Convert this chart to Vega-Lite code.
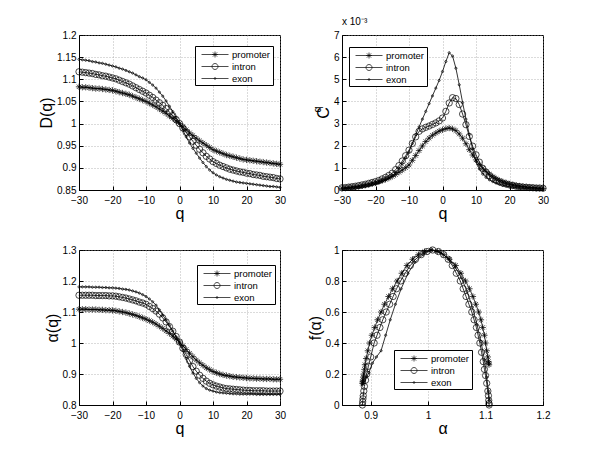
{
  "$schema": "https://vega.github.io/schema/vega-lite/v6.json",
  "background": "white",
  "padding": {"left": 38, "top": 16, "right": 5, "bottom": 5},
  "config": {
    "font": "Liberation Sans",
    "view": {"stroke": "black", "strokeWidth": 1},
    "axis": {
      "labelFont": "Liberation Sans", "labelFontSize": 10, "labelColor": "black", "labelOverlap": false,
      "titleFont": "Liberation Sans", "titleFontSize": 16, "titleFontWeight": "normal", "titleColor": "black",
      "domainColor": "black", "tickColor": "black", "tickSize": -4, "labelPadding": 7,
      "gridColor": "#9a9a9a", "gridDash": [1, 2], "gridWidth": 0.7, "titlePadding": 2
    },
    "axisX": {"labelFlush": false, "labelPadding": 9, "titlePadding": 0},
    "legend": {
      "orient": "none", "strokeColor": "black", "fillColor": "white", "padding": 2,
      "labelFont": "Liberation Sans", "labelFontSize": 9.5, "labelColor": "black", "labelOffset": 22,
      "symbolSize": 144, "rowPadding": 1, "symbolStrokeWidth": 0.7, "symbolStrokeColor": "black", "symbolOpacity": 1
    }
  },
  "datasets": {
    "q": [
      {"s":"promoter","q":-30,"D":1.083,"C":0.08,"a":1.109},
      {"s":"promoter","q":-29,"D":1.082,"C":0.09,"a":1.109},
      {"s":"promoter","q":-28,"D":1.082,"C":0.11,"a":1.109},
      {"s":"promoter","q":-27,"D":1.081,"C":0.12,"a":1.108},
      {"s":"promoter","q":-26,"D":1.080,"C":0.14,"a":1.108},
      {"s":"promoter","q":-25,"D":1.079,"C":0.16,"a":1.108},
      {"s":"promoter","q":-24,"D":1.079,"C":0.19,"a":1.107},
      {"s":"promoter","q":-23,"D":1.078,"C":0.22,"a":1.107},
      {"s":"promoter","q":-22,"D":1.077,"C":0.25,"a":1.106},
      {"s":"promoter","q":-21,"D":1.076,"C":0.29,"a":1.106},
      {"s":"promoter","q":-20,"D":1.075,"C":0.33,"a":1.105},
      {"s":"promoter","q":-19,"D":1.073,"C":0.38,"a":1.104},
      {"s":"promoter","q":-18,"D":1.071,"C":0.43,"a":1.102},
      {"s":"promoter","q":-17,"D":1.069,"C":0.48,"a":1.100},
      {"s":"promoter","q":-16,"D":1.067,"C":0.54,"a":1.098},
      {"s":"promoter","q":-15,"D":1.065,"C":0.61,"a":1.095},
      {"s":"promoter","q":-14,"D":1.062,"C":0.70,"a":1.092},
      {"s":"promoter","q":-13,"D":1.059,"C":0.80,"a":1.089},
      {"s":"promoter","q":-12,"D":1.056,"C":0.90,"a":1.085},
      {"s":"promoter","q":-11,"D":1.053,"C":1.01,"a":1.081},
      {"s":"promoter","q":-10,"D":1.050,"C":1.13,"a":1.077},
      {"s":"promoter","q":-9,"D":1.046,"C":1.34,"a":1.072},
      {"s":"promoter","q":-8,"D":1.042,"C":1.56,"a":1.067},
      {"s":"promoter","q":-7,"D":1.038,"C":1.78,"a":1.061},
      {"s":"promoter","q":-6,"D":1.033,"C":1.99,"a":1.054},
      {"s":"promoter","q":-5,"D":1.028,"C":2.19,"a":1.047},
      {"s":"promoter","q":-4,"D":1.023,"C":2.34,"a":1.039},
      {"s":"promoter","q":-3,"D":1.017,"C":2.47,"a":1.031},
      {"s":"promoter","q":-2,"D":1.012,"C":2.57,"a":1.022},
      {"s":"promoter","q":-1,"D":1.006,"C":2.66,"a":1.013},
      {"s":"promoter","q":0,"D":1.000,"C":2.72,"a":1.003},
      {"s":"promoter","q":1,"D":0.993,"C":2.77,"a":0.991},
      {"s":"promoter","q":2,"D":0.986,"C":2.80,"a":0.979},
      {"s":"promoter","q":3,"D":0.979,"C":2.76,"a":0.967},
      {"s":"promoter","q":4,"D":0.973,"C":2.68,"a":0.956},
      {"s":"promoter","q":5,"D":0.967,"C":2.53,"a":0.945},
      {"s":"promoter","q":6,"D":0.961,"C":2.34,"a":0.936},
      {"s":"promoter","q":7,"D":0.956,"C":2.09,"a":0.928},
      {"s":"promoter","q":8,"D":0.951,"C":1.82,"a":0.920},
      {"s":"promoter","q":9,"D":0.946,"C":1.58,"a":0.914},
      {"s":"promoter","q":10,"D":0.941,"C":1.36,"a":0.908},
      {"s":"promoter","q":11,"D":0.938,"C":1.16,"a":0.904},
      {"s":"promoter","q":12,"D":0.935,"C":0.98,"a":0.900},
      {"s":"promoter","q":13,"D":0.932,"C":0.84,"a":0.897},
      {"s":"promoter","q":14,"D":0.929,"C":0.71,"a":0.895},
      {"s":"promoter","q":15,"D":0.927,"C":0.60,"a":0.893},
      {"s":"promoter","q":16,"D":0.925,"C":0.51,"a":0.891},
      {"s":"promoter","q":17,"D":0.923,"C":0.43,"a":0.890},
      {"s":"promoter","q":18,"D":0.921,"C":0.37,"a":0.889},
      {"s":"promoter","q":19,"D":0.919,"C":0.32,"a":0.888},
      {"s":"promoter","q":20,"D":0.918,"C":0.27,"a":0.887},
      {"s":"promoter","q":21,"D":0.917,"C":0.24,"a":0.886},
      {"s":"promoter","q":22,"D":0.916,"C":0.21,"a":0.886},
      {"s":"promoter","q":23,"D":0.915,"C":0.18,"a":0.885},
      {"s":"promoter","q":24,"D":0.914,"C":0.16,"a":0.885},
      {"s":"promoter","q":25,"D":0.913,"C":0.14,"a":0.884},
      {"s":"promoter","q":26,"D":0.912,"C":0.12,"a":0.884},
      {"s":"promoter","q":27,"D":0.911,"C":0.11,"a":0.884},
      {"s":"promoter","q":28,"D":0.910,"C":0.09,"a":0.883},
      {"s":"promoter","q":29,"D":0.909,"C":0.08,"a":0.883},
      {"s":"promoter","q":30,"D":0.908,"C":0.07,"a":0.883},
      {"s":"intron","q":-30,"D":1.117,"C":0.10,"a":1.154},
      {"s":"intron","q":-29,"D":1.116,"C":0.11,"a":1.154},
      {"s":"intron","q":-28,"D":1.115,"C":0.13,"a":1.154},
      {"s":"intron","q":-27,"D":1.114,"C":0.15,"a":1.154},
      {"s":"intron","q":-26,"D":1.113,"C":0.17,"a":1.154},
      {"s":"intron","q":-25,"D":1.111,"C":0.20,"a":1.153},
      {"s":"intron","q":-24,"D":1.110,"C":0.23,"a":1.153},
      {"s":"intron","q":-23,"D":1.108,"C":0.26,"a":1.153},
      {"s":"intron","q":-22,"D":1.107,"C":0.30,"a":1.153},
      {"s":"intron","q":-21,"D":1.105,"C":0.34,"a":1.152},
      {"s":"intron","q":-20,"D":1.103,"C":0.38,"a":1.152},
      {"s":"intron","q":-19,"D":1.101,"C":0.43,"a":1.151},
      {"s":"intron","q":-18,"D":1.098,"C":0.50,"a":1.149},
      {"s":"intron","q":-17,"D":1.095,"C":0.57,"a":1.147},
      {"s":"intron","q":-16,"D":1.092,"C":0.66,"a":1.145},
      {"s":"intron","q":-15,"D":1.089,"C":0.76,"a":1.142},
      {"s":"intron","q":-14,"D":1.085,"C":0.92,"a":1.139},
      {"s":"intron","q":-13,"D":1.081,"C":1.10,"a":1.136},
      {"s":"intron","q":-12,"D":1.077,"C":1.31,"a":1.132},
      {"s":"intron","q":-11,"D":1.073,"C":1.55,"a":1.129},
      {"s":"intron","q":-10,"D":1.069,"C":1.80,"a":1.125},
      {"s":"intron","q":-9,"D":1.064,"C":2.10,"a":1.118},
      {"s":"intron","q":-8,"D":1.059,"C":2.40,"a":1.111},
      {"s":"intron","q":-7,"D":1.053,"C":2.65,"a":1.103},
      {"s":"intron","q":-6,"D":1.047,"C":2.76,"a":1.093},
      {"s":"intron","q":-5,"D":1.041,"C":2.83,"a":1.081},
      {"s":"intron","q":-4,"D":1.034,"C":2.89,"a":1.068},
      {"s":"intron","q":-3,"D":1.026,"C":2.96,"a":1.053},
      {"s":"intron","q":-2,"D":1.018,"C":3.03,"a":1.038},
      {"s":"intron","q":-1,"D":1.009,"C":3.12,"a":1.021},
      {"s":"intron","q":0,"D":1.000,"C":3.25,"a":1.003},
      {"s":"intron","q":1,"D":0.990,"C":3.55,"a":0.983},
      {"s":"intron","q":2,"D":0.980,"C":3.93,"a":0.963},
      {"s":"intron","q":3,"D":0.970,"C":4.17,"a":0.943},
      {"s":"intron","q":4,"D":0.960,"C":4.13,"a":0.924},
      {"s":"intron","q":5,"D":0.951,"C":3.86,"a":0.909},
      {"s":"intron","q":6,"D":0.942,"C":3.43,"a":0.896},
      {"s":"intron","q":7,"D":0.934,"C":2.95,"a":0.886},
      {"s":"intron","q":8,"D":0.926,"C":2.42,"a":0.877},
      {"s":"intron","q":9,"D":0.920,"C":1.98,"a":0.870},
      {"s":"intron","q":10,"D":0.914,"C":1.59,"a":0.865},
      {"s":"intron","q":11,"D":0.910,"C":1.26,"a":0.861},
      {"s":"intron","q":12,"D":0.906,"C":0.98,"a":0.858},
      {"s":"intron","q":13,"D":0.903,"C":0.80,"a":0.855},
      {"s":"intron","q":14,"D":0.900,"C":0.65,"a":0.853},
      {"s":"intron","q":15,"D":0.897,"C":0.53,"a":0.852},
      {"s":"intron","q":16,"D":0.895,"C":0.44,"a":0.851},
      {"s":"intron","q":17,"D":0.893,"C":0.37,"a":0.850},
      {"s":"intron","q":18,"D":0.891,"C":0.31,"a":0.849},
      {"s":"intron","q":19,"D":0.890,"C":0.27,"a":0.848},
      {"s":"intron","q":20,"D":0.888,"C":0.23,"a":0.847},
      {"s":"intron","q":21,"D":0.887,"C":0.20,"a":0.847},
      {"s":"intron","q":22,"D":0.885,"C":0.17,"a":0.846},
      {"s":"intron","q":23,"D":0.884,"C":0.15,"a":0.846},
      {"s":"intron","q":24,"D":0.883,"C":0.13,"a":0.846},
      {"s":"intron","q":25,"D":0.881,"C":0.12,"a":0.846},
      {"s":"intron","q":26,"D":0.880,"C":0.11,"a":0.845},
      {"s":"intron","q":27,"D":0.879,"C":0.10,"a":0.845},
      {"s":"intron","q":28,"D":0.878,"C":0.09,"a":0.845},
      {"s":"intron","q":29,"D":0.876,"C":0.09,"a":0.845},
      {"s":"intron","q":30,"D":0.875,"C":0.08,"a":0.845},
      {"s":"exon","q":-30,"D":1.145,"C":0.05,"a":1.181},
      {"s":"exon","q":-29,"D":1.144,"C":0.06,"a":1.181},
      {"s":"exon","q":-28,"D":1.143,"C":0.07,"a":1.181},
      {"s":"exon","q":-27,"D":1.142,"C":0.08,"a":1.181},
      {"s":"exon","q":-26,"D":1.140,"C":0.09,"a":1.180},
      {"s":"exon","q":-25,"D":1.139,"C":0.11,"a":1.180},
      {"s":"exon","q":-24,"D":1.137,"C":0.13,"a":1.180},
      {"s":"exon","q":-23,"D":1.136,"C":0.16,"a":1.179},
      {"s":"exon","q":-22,"D":1.134,"C":0.19,"a":1.179},
      {"s":"exon","q":-21,"D":1.132,"C":0.23,"a":1.178},
      {"s":"exon","q":-20,"D":1.130,"C":0.27,"a":1.178},
      {"s":"exon","q":-19,"D":1.128,"C":0.32,"a":1.177},
      {"s":"exon","q":-18,"D":1.125,"C":0.38,"a":1.176},
      {"s":"exon","q":-17,"D":1.123,"C":0.45,"a":1.174},
      {"s":"exon","q":-16,"D":1.120,"C":0.54,"a":1.173},
      {"s":"exon","q":-15,"D":1.117,"C":0.65,"a":1.171},
      {"s":"exon","q":-14,"D":1.114,"C":0.80,"a":1.168},
      {"s":"exon","q":-13,"D":1.110,"C":0.98,"a":1.165},
      {"s":"exon","q":-12,"D":1.106,"C":1.20,"a":1.161},
      {"s":"exon","q":-11,"D":1.103,"C":1.45,"a":1.156},
      {"s":"exon","q":-10,"D":1.099,"C":1.72,"a":1.150},
      {"s":"exon","q":-9,"D":1.093,"C":2.10,"a":1.142},
      {"s":"exon","q":-8,"D":1.087,"C":2.50,"a":1.133},
      {"s":"exon","q":-7,"D":1.080,"C":2.85,"a":1.122},
      {"s":"exon","q":-6,"D":1.071,"C":3.20,"a":1.107},
      {"s":"exon","q":-5,"D":1.062,"C":3.55,"a":1.090},
      {"s":"exon","q":-4,"D":1.051,"C":3.90,"a":1.074},
      {"s":"exon","q":-3,"D":1.039,"C":4.25,"a":1.057},
      {"s":"exon","q":-2,"D":1.027,"C":4.60,"a":1.039},
      {"s":"exon","q":-1,"D":1.014,"C":4.95,"a":1.020},
      {"s":"exon","q":0,"D":1.000,"C":5.35,"a":0.999},
      {"s":"exon","q":1,"D":0.985,"C":5.80,"a":0.975},
      {"s":"exon","q":2,"D":0.970,"C":6.20,"a":0.950},
      {"s":"exon","q":3,"D":0.956,"C":6.05,"a":0.925},
      {"s":"exon","q":4,"D":0.944,"C":5.50,"a":0.903},
      {"s":"exon","q":5,"D":0.933,"C":4.75,"a":0.886},
      {"s":"exon","q":6,"D":0.922,"C":3.95,"a":0.872},
      {"s":"exon","q":7,"D":0.912,"C":3.20,"a":0.861},
      {"s":"exon","q":8,"D":0.903,"C":2.50,"a":0.853},
      {"s":"exon","q":9,"D":0.895,"C":1.85,"a":0.848},
      {"s":"exon","q":10,"D":0.889,"C":1.30,"a":0.845},
      {"s":"exon","q":11,"D":0.884,"C":0.95,"a":0.842},
      {"s":"exon","q":12,"D":0.880,"C":0.72,"a":0.840},
      {"s":"exon","q":13,"D":0.877,"C":0.57,"a":0.839},
      {"s":"exon","q":14,"D":0.874,"C":0.46,"a":0.838},
      {"s":"exon","q":15,"D":0.872,"C":0.38,"a":0.837},
      {"s":"exon","q":16,"D":0.870,"C":0.31,"a":0.836},
      {"s":"exon","q":17,"D":0.868,"C":0.26,"a":0.836},
      {"s":"exon","q":18,"D":0.867,"C":0.21,"a":0.835},
      {"s":"exon","q":19,"D":0.866,"C":0.18,"a":0.835},
      {"s":"exon","q":20,"D":0.865,"C":0.15,"a":0.835},
      {"s":"exon","q":21,"D":0.864,"C":0.13,"a":0.835},
      {"s":"exon","q":22,"D":0.863,"C":0.11,"a":0.835},
      {"s":"exon","q":23,"D":0.862,"C":0.09,"a":0.834},
      {"s":"exon","q":24,"D":0.861,"C":0.08,"a":0.834},
      {"s":"exon","q":25,"D":0.860,"C":0.07,"a":0.834},
      {"s":"exon","q":26,"D":0.859,"C":0.06,"a":0.834},
      {"s":"exon","q":27,"D":0.858,"C":0.05,"a":0.834},
      {"s":"exon","q":28,"D":0.858,"C":0.05,"a":0.834},
      {"s":"exon","q":29,"D":0.857,"C":0.04,"a":0.834},
      {"s":"exon","q":30,"D":0.856,"C":0.04,"a":0.834}
    ],
    "fa": [
      {"s":"promoter","a":0.8855,"f":0.14},{"s":"promoter","a":0.886,"f":0.15},{"s":"promoter","a":0.8865,"f":0.16},
      {"s":"promoter","a":0.887,"f":0.18},{"s":"promoter","a":0.888,"f":0.20},{"s":"promoter","a":0.889,"f":0.23},
      {"s":"promoter","a":0.890,"f":0.26},{"s":"promoter","a":0.892,"f":0.30},{"s":"promoter","a":0.895,"f":0.35},
      {"s":"promoter","a":0.898,"f":0.40},{"s":"promoter","a":0.902,"f":0.45},{"s":"promoter","a":0.907,"f":0.50},
      {"s":"promoter","a":0.912,"f":0.55},{"s":"promoter","a":0.918,"f":0.60},{"s":"promoter","a":0.924,"f":0.65},
      {"s":"promoter","a":0.931,"f":0.70},{"s":"promoter","a":0.938,"f":0.75},{"s":"promoter","a":0.946,"f":0.80},
      {"s":"promoter","a":0.954,"f":0.85},{"s":"promoter","a":0.963,"f":0.90},{"s":"promoter","a":0.973,"f":0.94},
      {"s":"promoter","a":0.983,"f":0.97},{"s":"promoter","a":0.994,"f":0.99},{"s":"promoter","a":1.005,"f":1.00},
      {"s":"promoter","a":1.016,"f":0.99},{"s":"promoter","a":1.027,"f":0.97},{"s":"promoter","a":1.037,"f":0.94},
      {"s":"promoter","a":1.048,"f":0.90},{"s":"promoter","a":1.057,"f":0.85},{"s":"promoter","a":1.065,"f":0.80},
      {"s":"promoter","a":1.072,"f":0.75},{"s":"promoter","a":1.078,"f":0.70},{"s":"promoter","a":1.083,"f":0.65},
      {"s":"promoter","a":1.088,"f":0.60},{"s":"promoter","a":1.092,"f":0.55},{"s":"promoter","a":1.095,"f":0.50},
      {"s":"promoter","a":1.098,"f":0.45},{"s":"promoter","a":1.100,"f":0.40},{"s":"promoter","a":1.102,"f":0.35},
      {"s":"promoter","a":1.104,"f":0.31},{"s":"promoter","a":1.105,"f":0.28},{"s":"promoter","a":1.1055,"f":0.27},
      {"s":"promoter","a":1.106,"f":0.26},
      {"s":"intron","a":0.8855,"f":0.00},{"s":"intron","a":0.886,"f":0.02},{"s":"intron","a":0.8865,"f":0.04},
      {"s":"intron","a":0.887,"f":0.06},{"s":"intron","a":0.888,"f":0.09},{"s":"intron","a":0.889,"f":0.12},
      {"s":"intron","a":0.891,"f":0.16},{"s":"intron","a":0.893,"f":0.20},{"s":"intron","a":0.896,"f":0.25},
      {"s":"intron","a":0.900,"f":0.31},{"s":"intron","a":0.906,"f":0.40},{"s":"intron","a":0.911,"f":0.45},
      {"s":"intron","a":0.916,"f":0.50},{"s":"intron","a":0.921,"f":0.55},{"s":"intron","a":0.927,"f":0.60},
      {"s":"intron","a":0.933,"f":0.65},{"s":"intron","a":0.939,"f":0.70},{"s":"intron","a":0.945,"f":0.75},
      {"s":"intron","a":0.952,"f":0.80},{"s":"intron","a":0.960,"f":0.85},{"s":"intron","a":0.969,"f":0.90},
      {"s":"intron","a":0.978,"f":0.94},{"s":"intron","a":0.988,"f":0.97},{"s":"intron","a":0.998,"f":0.99},
      {"s":"intron","a":1.008,"f":1.00},{"s":"intron","a":1.018,"f":0.99},{"s":"intron","a":1.027,"f":0.97},
      {"s":"intron","a":1.035,"f":0.94},{"s":"intron","a":1.042,"f":0.90},{"s":"intron","a":1.049,"f":0.85},
      {"s":"intron","a":1.056,"f":0.80},{"s":"intron","a":1.061,"f":0.75},{"s":"intron","a":1.066,"f":0.70},
      {"s":"intron","a":1.071,"f":0.65},{"s":"intron","a":1.076,"f":0.60},{"s":"intron","a":1.080,"f":0.55},
      {"s":"intron","a":1.084,"f":0.50},{"s":"intron","a":1.087,"f":0.45},{"s":"intron","a":1.090,"f":0.40},
      {"s":"intron","a":1.093,"f":0.34},{"s":"intron","a":1.096,"f":0.28},{"s":"intron","a":1.098,"f":0.23},
      {"s":"intron","a":1.100,"f":0.19},{"s":"intron","a":1.102,"f":0.14},{"s":"intron","a":1.104,"f":0.09},
      {"s":"intron","a":1.105,"f":0.06},{"s":"intron","a":1.1055,"f":0.03},{"s":"intron","a":1.106,"f":0.01},
      {"s":"intron","a":1.1062,"f":0.00},
      {"s":"exon","a":0.8855,"f":0.13},{"s":"exon","a":0.886,"f":0.14},{"s":"exon","a":0.889,"f":0.16},
      {"s":"exon","a":0.893,"f":0.18},{"s":"exon","a":0.897,"f":0.21},{"s":"exon","a":0.903,"f":0.27},
      {"s":"exon","a":0.910,"f":0.31},{"s":"exon","a":0.918,"f":0.35},{"s":"exon","a":0.926,"f":0.45},
      {"s":"exon","a":0.934,"f":0.55},{"s":"exon","a":0.943,"f":0.65},{"s":"exon","a":0.953,"f":0.75},
      {"s":"exon","a":0.965,"f":0.85},{"s":"exon","a":0.977,"f":0.92},{"s":"exon","a":0.991,"f":0.97},
      {"s":"exon","a":1.006,"f":1.00},{"s":"exon","a":1.021,"f":0.985},{"s":"exon","a":1.035,"f":0.945},
      {"s":"exon","a":1.047,"f":0.89},{"s":"exon","a":1.058,"f":0.82},{"s":"exon","a":1.068,"f":0.73},
      {"s":"exon","a":1.077,"f":0.63},{"s":"exon","a":1.085,"f":0.52},{"s":"exon","a":1.092,"f":0.41},
      {"s":"exon","a":1.098,"f":0.29},{"s":"exon","a":1.102,"f":0.18},{"s":"exon","a":1.105,"f":0.09},
      {"s":"exon","a":1.107,"f":0.03}
    ]
  },
  "columns": 2,
  "spacing": {"row": 60, "column": 62},
  "bounds": "flush",
  "resolve": {"scale": {"shape": "independent"}, "legend": {"shape": "independent"}},
  "concat": [
    {
      "width": 201, "height": 155,
      "data": {"name": "q"},
      "resolve": {"scale": {"shape": "independent"}, "legend": {"shape": "independent"}},
      "layer": [
        {"mark": {"type": "line", "color": "black", "strokeWidth": 0.8},
         "encoding": {
           "x": {"field": "q", "type": "quantitative", "scale": {"domain": [-30, 30], "nice": false, "zero": false}, "axis": {"title": "q", "tickCount": 50, "labelOverlap": false, "values": [-30, -20, -10, 0, 10, 20, 30]}},
           "y": {"field": "D", "type": "quantitative", "scale": {"domain": [0.85, 1.2], "nice": false, "zero": false}, "axis": {"title": "D(q)", "tickCount": 50, "labelOverlap": false, "values": [0.85, 0.9, 0.95, 1, 1.05, 1.1, 1.15, 1.2], "format": "~g"}},
           "detail": {"field": "s"}
         }},
        {"mark": {"type": "point", "filled": false, "color": "black", "size": 40, "strokeWidth": 0.7, "opacity": 1},
         "encoding": {
           "x": {"field": "q", "type": "quantitative"},
           "y": {"field": "D", "type": "quantitative"},
           "shape": {"field": "s", "type": "nominal", "legend": null,
             "scale": {"domain": ["promoter", "intron", "exon"], "range": ["M-1,0H1M0,-1V1M-0.7,-0.7L0.7,0.7M-0.7,0.7L0.7,-0.7", "circle", "M0.35,0A0.35,0.35 0 1,1 -0.35,0A0.35,0.35 0 1,1 0.35,0"]}}
         }},
        {"mark": {"type": "point", "filled": false, "color": "black", "size": 144, "strokeWidth": 0.7, "opacity": 0},
         "encoding": {
           "x": {"field": "q", "type": "quantitative"},
           "y": {"field": "D", "type": "quantitative"},
           "shape": {"field": "s", "type": "nominal",
             "scale": {"domain": ["promoter", "intron", "exon"], "range": ["M-0.33,0H4.17M1.42,0H2.42M1.92,-0.5V0.5M1.57,-0.35L2.27,0.35M1.57,0.35L2.27,-0.35", "M-0.33,0H4.17M2.42,0A0.5,0.5 0 1,1 1.42,0A0.5,0.5 0 1,1 2.42,0", "M-0.33,0H4.17M2.07,0A0.15,0.15 0 1,1 1.77,0A0.15,0.15 0 1,1 2.07,0"]},
             "legend": {"title": null, "legendX": 116, "legendY": 11}}
         }}
      ]
    },
    {
      "width": 201, "height": 155,
      "data": {"name": "q"},
      "title": {"text": "x 10⁻³", "anchor": "start", "frame": "group", "fontSize": 10, "fontWeight": "normal", "offset": 3, "color": "black", "font": "Liberation Sans"},
      "resolve": {"scale": {"y": "independent"}, "axis": {"y": "independent"}},
      "layer": [
        {
          "resolve": {"scale": {"shape": "independent"}, "legend": {"shape": "independent"}},
          "layer": [
            {"mark": {"type": "line", "color": "black", "strokeWidth": 0.8},
             "encoding": {
               "x": {"field": "q", "type": "quantitative", "scale": {"domain": [-30, 30], "nice": false, "zero": false}, "axis": {"title": "q", "tickCount": 50, "labelOverlap": false, "values": [-30, -20, -10, 0, 10, 20, 30]}},
               "y": {"field": "C", "type": "quantitative", "scale": {"domain": [0, 7], "nice": false}, "axis": {"title": "C", "tickCount": 50, "labelOverlap": false, "values": [0, 1, 2, 3, 4, 5, 6, 7], "format": "d"}},
               "detail": {"field": "s"}
             }},
            {"mark": {"type": "point", "filled": false, "color": "black", "size": 40, "strokeWidth": 0.7, "opacity": 1},
             "encoding": {
               "x": {"field": "q", "type": "quantitative"},
               "y": {"field": "C", "type": "quantitative"},
               "shape": {"field": "s", "type": "nominal", "legend": null,
                 "scale": {"domain": ["promoter", "intron", "exon"], "range": ["M-1,0H1M0,-1V1M-0.7,-0.7L0.7,0.7M-0.7,0.7L0.7,-0.7", "circle", "M0.35,0A0.35,0.35 0 1,1 -0.35,0A0.35,0.35 0 1,1 0.35,0"]}}
             }},
            {"mark": {"type": "point", "filled": false, "color": "black", "size": 144, "strokeWidth": 0.7, "opacity": 0},
             "encoding": {
               "x": {"field": "q", "type": "quantitative"},
               "y": {"field": "C", "type": "quantitative"},
               "shape": {"field": "s", "type": "nominal",
                 "scale": {"domain": ["promoter", "intron", "exon"], "range": ["M-0.33,0H4.17M1.42,0H2.42M1.92,-0.5V0.5M1.57,-0.35L2.27,0.35M1.57,0.35L2.27,-0.35", "M-0.33,0H4.17M2.42,0A0.5,0.5 0 1,1 1.42,0A0.5,0.5 0 1,1 2.42,0", "M-0.33,0H4.17M2.07,0A0.15,0.15 0 1,1 1.77,0A0.15,0.15 0 1,1 2.07,0"]},
                 "legend": {"title": null, "legendX": 7, "legendY": 12}}
             }}
          ]
        },
        {"mark": {"type": "point", "opacity": 0},
         "encoding": {
           "x": {"field": "q", "type": "quantitative"},
           "y": {"field": "C", "type": "quantitative", "scale": {"domain": [0, 7], "nice": false},
             "axis": {"orient": "left", "title": "q", "titleFontSize": 11, "labels": false, "ticks": false, "domain": false, "grid": false, "titleX": -20, "titleY": 74}}
         }}
      ]
    },
    {
      "width": 201, "height": 155,
      "data": {"name": "q"},
      "resolve": {"scale": {"shape": "independent"}, "legend": {"shape": "independent"}},
      "layer": [
        {"mark": {"type": "line", "color": "black", "strokeWidth": 0.8},
         "encoding": {
           "x": {"field": "q", "type": "quantitative", "scale": {"domain": [-30, 30], "nice": false, "zero": false}, "axis": {"title": "q", "tickCount": 50, "labelOverlap": false, "values": [-30, -20, -10, 0, 10, 20, 30]}},
           "y": {"field": "a", "type": "quantitative", "scale": {"domain": [0.8, 1.3], "nice": false, "zero": false}, "axis": {"title": "α(q)", "tickCount": 50, "labelOverlap": false, "values": [0.8, 0.9, 1, 1.1, 1.2, 1.3], "format": "~g"}},
           "detail": {"field": "s"}
         }},
        {"mark": {"type": "point", "filled": false, "color": "black", "size": 40, "strokeWidth": 0.7, "opacity": 1},
         "encoding": {
           "x": {"field": "q", "type": "quantitative"},
           "y": {"field": "a", "type": "quantitative"},
           "shape": {"field": "s", "type": "nominal", "legend": null,
             "scale": {"domain": ["promoter", "intron", "exon"], "range": ["M-1,0H1M0,-1V1M-0.7,-0.7L0.7,0.7M-0.7,0.7L0.7,-0.7", "circle", "M0.35,0A0.35,0.35 0 1,1 -0.35,0A0.35,0.35 0 1,1 0.35,0"]}}
         }},
        {"mark": {"type": "point", "filled": false, "color": "black", "size": 144, "strokeWidth": 0.7, "opacity": 0},
         "encoding": {
           "x": {"field": "q", "type": "quantitative"},
           "y": {"field": "a", "type": "quantitative"},
           "shape": {"field": "s", "type": "nominal",
             "scale": {"domain": ["promoter", "intron", "exon"], "range": ["M-0.33,0H4.17M1.42,0H2.42M1.92,-0.5V0.5M1.57,-0.35L2.27,0.35M1.57,0.35L2.27,-0.35", "M-0.33,0H4.17M2.42,0A0.5,0.5 0 1,1 1.42,0A0.5,0.5 0 1,1 2.42,0", "M-0.33,0H4.17M2.07,0A0.15,0.15 0 1,1 1.77,0A0.15,0.15 0 1,1 2.07,0"]},
             "legend": {"title": null, "legendX": 118, "legendY": 15}}
         }}
      ]
    },
    {
      "width": 201, "height": 155,
      "data": {"name": "fa"},
      "resolve": {"scale": {"shape": "independent"}, "legend": {"shape": "independent"}},
      "layer": [
        {"mark": {"type": "line", "color": "black", "strokeWidth": 0.8},
         "encoding": {
           "x": {"field": "a", "type": "quantitative", "scale": {"domain": [0.85, 1.2], "nice": false, "zero": false}, "axis": {"title": "α", "tickCount": 50, "labelOverlap": false, "values": [0.9, 1, 1.1, 1.2], "format": "~g"}},
           "y": {"field": "f", "type": "quantitative", "scale": {"domain": [0, 1], "nice": false}, "axis": {"title": "f(α)", "tickCount": 50, "labelOverlap": false, "values": [0, 0.2, 0.4, 0.6, 0.8, 1], "format": "~g"}},
           "detail": {"field": "s"}
         }},
        {"mark": {"type": "point", "filled": false, "color": "black", "size": 40, "strokeWidth": 0.7, "opacity": 1},
         "encoding": {
           "x": {"field": "a", "type": "quantitative"},
           "y": {"field": "f", "type": "quantitative"},
           "shape": {"field": "s", "type": "nominal", "legend": null,
             "scale": {"domain": ["promoter", "intron", "exon"], "range": ["M-1,0H1M0,-1V1M-0.7,-0.7L0.7,0.7M-0.7,0.7L0.7,-0.7", "circle", "M0.35,0A0.35,0.35 0 1,1 -0.35,0A0.35,0.35 0 1,1 0.35,0"]}}
         }},
        {"mark": {"type": "point", "filled": false, "color": "black", "size": 144, "strokeWidth": 0.7, "opacity": 0},
         "encoding": {
           "x": {"field": "a", "type": "quantitative"},
           "y": {"field": "f", "type": "quantitative"},
           "shape": {"field": "s", "type": "nominal",
             "scale": {"domain": ["promoter", "intron", "exon"], "range": ["M-0.33,0H4.17M1.42,0H2.42M1.92,-0.5V0.5M1.57,-0.35L2.27,0.35M1.57,0.35L2.27,-0.35", "M-0.33,0H4.17M2.42,0A0.5,0.5 0 1,1 1.42,0A0.5,0.5 0 1,1 2.42,0", "M-0.33,0H4.17M2.07,0A0.15,0.15 0 1,1 1.77,0A0.15,0.15 0 1,1 2.07,0"]},
             "legend": {"title": null, "legendX": 52, "legendY": 100}}
         }}
      ]
    }
  ]
}
